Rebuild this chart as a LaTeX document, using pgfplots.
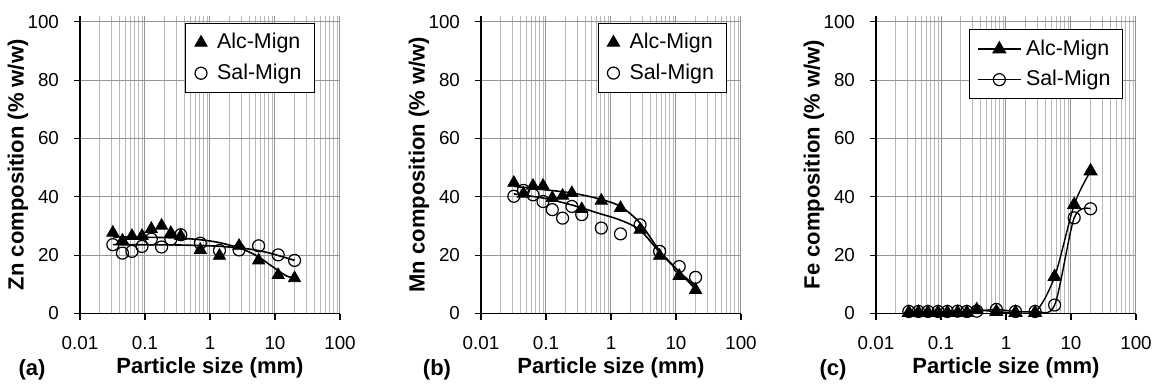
\documentclass[border=0pt]{standalone}
\usepackage{fontspec}
\setmainfont{Liberation Sans}
\usepackage{pgfplots}
\pgfplotsset{compat=1.18}

\pgfplotsset{
  every axis/.append style={
    scale only axis, width=130pt, height=148.75pt,
    xmin=0.01, xmax=100, ymin=0, ymax=102,
    xtick={0.01,0.1,1,10,100}, xticklabels={0.01,0.1,1,10,100},
    ytick={0,20,40,60,80,100},
    grid=both, minor y tick num=0,
    major grid style={draw=black!42, line width=0.5pt},
    minor grid style={draw=black!28, line width=0.5pt},
    axis lines*=left,
    axis line style={-, line width=0.8pt, black},
    tick align=outside, major tick length=3pt, minor tick length=0pt,
    tick style={black, line width=0.6pt},
    /pgf/number format/assume math mode=true,
    tick label style={font=\fontsize{9.4}{11}\selectfont},
    xticklabel style={yshift=-5pt},
    yticklabel style={xshift=-4pt},
    label style={font=\fontsize{11}{13}\selectfont\bfseries},
    xlabel={Particle size (mm)},
    xlabel style={at={(axis description cs:0.5,-0.182)}, anchor=center},
    ylabel style={at={(axis description cs:-0.2385,0.5)}, anchor=center},
    legend style={font=\fontsize{10.7}{12}\selectfont, draw=black, line width=0.5pt,
      fill=white, anchor=north east, inner xsep=4.5pt, inner ysep=3pt, row sep=2pt,
      column sep=3pt},
    legend cell align=left,
  },
}
\tikzset{
  tri/.style={black, mark=triangle*, mark size=3.5pt},
  circ/.style={black, mark=o, mark size=3pt, mark options={line width=0.6pt}},
  trend/.style={black, smooth, line width=0.8pt},
}

\begin{document}
\begin{tikzpicture}
% ---------------- (a) Zn ----------------
\begin{semilogxaxis}[name=A, at={(40pt,36.25pt)}, anchor=south west,
  ylabel={Zn composition (\% w/w)},
  legend style={at={(0.904,0.9765)}}]
\addplot[tri, only marks] coordinates {
 (0.032,27.7) (0.045,25.0) (0.063,26.6) (0.09,26.6) (0.125,29.0) (0.18,30.1) (0.25,27.6)
 (0.355,26.6) (0.71,21.8) (1.4,19.8) (2.8,23.2) (5.6,18.2) (11.2,13.2) (20,12.1)};
\addlegendentry{Alc-Mign}
\addplot[circ, only marks] coordinates {
 (0.032,23.6) (0.045,20.7) (0.063,21.3) (0.09,23.0) (0.125,25.5) (0.18,22.8) (0.25,25.5)
 (0.355,27.0) (0.71,24.1) (1.4,21.6) (2.8,21.8) (5.6,23.2) (11.2,20.1) (20,18.2)};
\addlegendentry{Sal-Mign}
\addplot[trend, no marks, forget plot] coordinates {
 (0.032,26.25) (0.1,26.15) (0.3,25.9) (0.7,25.3) (1.4,24.3) (2.8,22.5) (4,21.1)
 (5.6,19.4) (8,17.0) (11.2,14.7) (15,12.9) (20,12.1)};
\addplot[trend, no marks, forget plot] coordinates {
 (0.032,23.6) (0.1,23.55) (0.3,23.5) (0.7,23.3) (1.4,23.05) (2.8,22.5) (4,22.1)
 (5.6,21.55) (8,20.8) (11.2,19.9) (15,19.05) (20,18.2)};
\end{semilogxaxis}
\node[font=\fontsize{11}{13}\selectfont\bfseries] at ([xshift=-24pt,yshift=-28.3pt]A.south west) {(a)};

% ---------------- (b) Mn ----------------
\begin{semilogxaxis}[name=B, at={(240.5pt,36.25pt)}, anchor=south west,
  ylabel={Mn composition (\% w/w)},
  legend style={at={(0.948,0.977)}}]
\addplot[tri, only marks] coordinates {
 (0.032,44.8) (0.045,41.1) (0.063,43.8) (0.09,43.8) (0.125,39.6) (0.18,40.4) (0.25,41.3)
 (0.355,35.8) (0.71,38.7) (1.4,36.2) (2.8,28.7) (5.6,19.8) (11.2,12.9) (20,8.1)};
\addlegendentry{Alc-Mign}
\addplot[circ, only marks] coordinates {
 (0.032,40.2) (0.045,42.2) (0.063,40.7) (0.09,38.4) (0.125,35.6) (0.18,32.7) (0.25,36.7)
 (0.355,33.9) (0.71,29.3) (1.4,27.3) (2.8,30.4) (5.6,21.3) (11.2,16.1) (20,12.4)};
\addlegendentry{Sal-Mign}
\addplot[trend, no marks, forget plot] coordinates {
 (0.032,43.6) (0.09,42.5) (0.25,41.3) (0.66,39.3) (1.4,36.7) (2.8,31.0) (5.6,21.5)
 (11.2,14.3) (20,8.3)};
\addplot[trend, no marks, forget plot] coordinates {
 (0.032,41.0) (0.09,39.6) (0.25,37.2) (0.66,34.3) (1.4,32.0) (2.8,28.6) (5.6,21.0)
 (11.2,14.3) (20,9.3)};
\end{semilogxaxis}
\node[font=\fontsize{11}{13}\selectfont\bfseries] at ([xshift=-22pt,yshift=-28.3pt]B.south west) {(b)};

% ---------------- (c) Fe ----------------
\begin{semilogxaxis}[name=C, at={(438pt,36.25pt)}, anchor=south west,
  ylabel={Fe composition (\% w/w)},
  legend style={at={(0.950,0.955)}, inner xsep=4pt, column sep=0.5pt},
  legend image code/.code={\draw[mark repeat=2,mark phase=2,#1] plot coordinates {(0pt,0pt) (10.5pt,0pt) (21pt,0pt)};}]
\addplot[tri, smooth, line width=0.7pt] coordinates {
 (0.032,0.3) (0.045,0.3) (0.063,0.3) (0.09,0.3) (0.125,0.3) (0.18,0.3) (0.25,0.3)
 (0.355,1.2) (0.71,0.6) (1.4,0.3) (2.8,0.3) (5.6,12.6) (11.2,37.3) (20,48.8)};
\addlegendentry{Alc-Mign}
\addplot[circ, smooth, line width=0.7pt] coordinates {
 (0.032,0.7) (0.045,0.7) (0.063,0.7) (0.09,0.7) (0.125,0.7) (0.18,0.8) (0.25,0.7)
 (0.355,0.8) (0.71,1.4) (1.4,0.7) (2.8,0.7) (5.6,2.9) (11.2,32.8) (20,35.9)};
\addlegendentry{Sal-Mign}
\end{semilogxaxis}
\node[font=\fontsize{11}{13}\selectfont\bfseries] at ([xshift=-21.5pt,yshift=-28.3pt]C.south west) {(c)};

\pgfresetboundingbox
\path[use as bounding box] (0,0) rectangle (579pt,193pt);
\end{tikzpicture}
\end{document}
